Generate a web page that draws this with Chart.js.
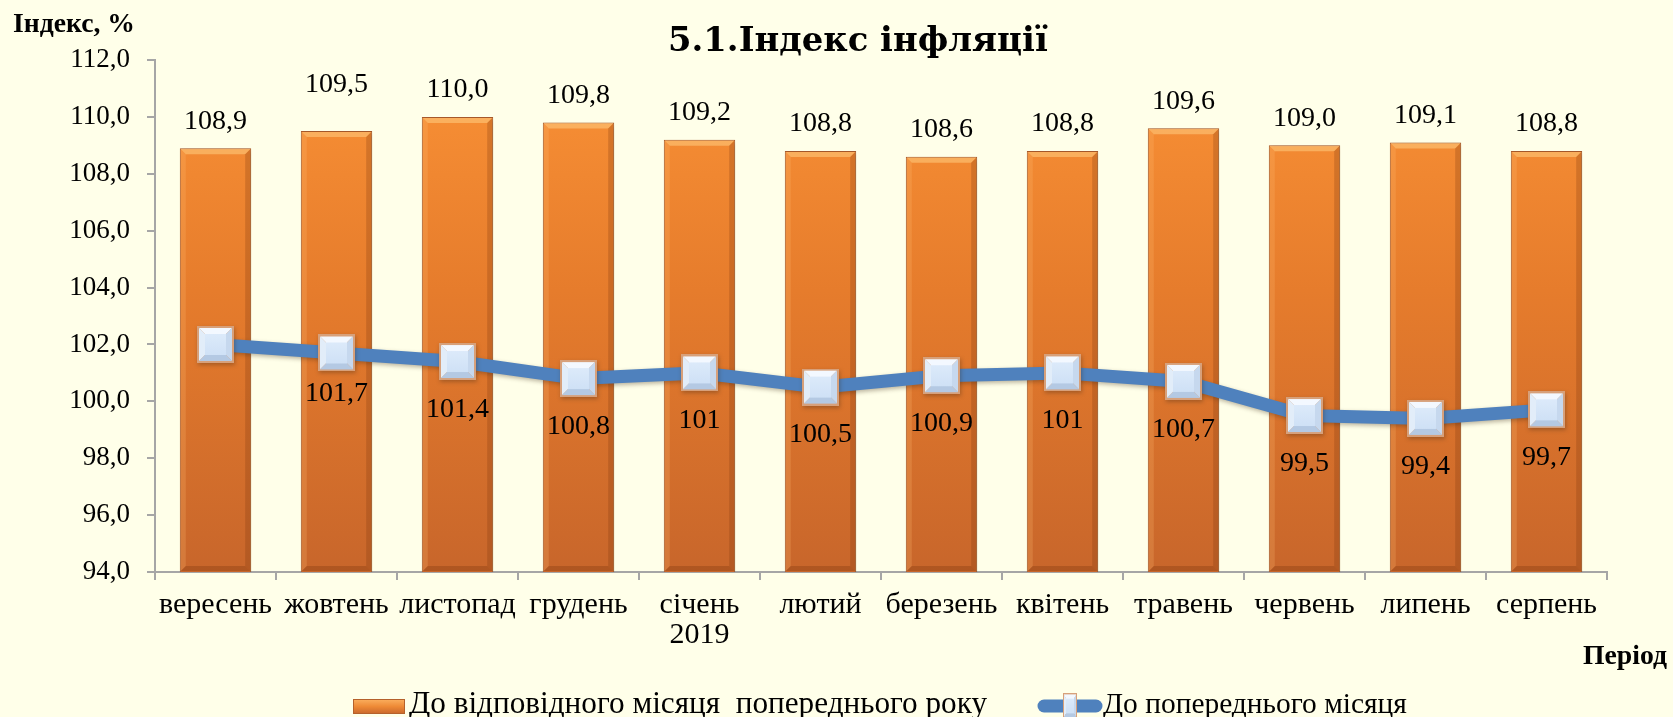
<!DOCTYPE html>
<html>
<head>
<meta charset="utf-8">
<script src="https://cdn.jsdelivr.net/npm/chart.js@4.4.1/dist/chart.umd.min.js"></script>
<style>
  html,body{margin:0;padding:0;background:#FFFFE9;}
  #wrap{width:1673px;height:717px;position:relative;}
</style>
</head>
<body>
<div id="wrap"><canvas id="c" width="1673" height="717"></canvas></div>
<script>
// ---- data ----
const categories = [['вересень'],['жовтень'],['листопад'],['грудень'],['січень','2019'],['лютий'],['березень'],['квітень'],['травень'],['червень'],['липень'],['серпень']];
const yoyValues = [108.9,109.5,110.0,109.8,109.2,108.8,108.6,108.8,109.6,109.0,109.1,108.8];
const momValues = [102.0,101.7,101.4,100.8,101,100.5,100.9,101,100.7,99.5,99.4,99.7];
const momLabelShown = [false,true,true,true,true,true,true,true,true,true,true,true];
const yMin = 94, yMax = 112, yStep = 2;
const titleText = '5.1.Індекс інфляції';
const yTitle = 'Індекс, %';
const xTitle = 'Період';
const seriesNames = ['До відповідного місяця  попереднього року','До попереднього місяця'];

// label placement tweaks (style only)
const barLabelLift = [0,19,0,0,0,0,0,0,0,0,0,0];
const lineLabelDrop = [0,-7,0,0,0,0,0,0,0,0,0,0];

const SERIF = '"Liberation Serif", "Times New Roman", serif';

function fmt1(v){ return v.toFixed(1).replace('.',','); }
function fmtRaw(v){ return String(v).replace('.',','); }

// marker image
function makeMarker(s){
  const c = document.createElement('canvas');
  c.width = s; c.height = s;
  const g = c.getContext('2d');
  const b = 6;
  g.fillStyle = '#D7A07A'; g.fillRect(0,0,s,s);
  const i0 = 2, i1 = s-2;
  g.fillStyle = '#F3F8FF'; g.beginPath(); g.moveTo(i0,i0); g.lineTo(i1,i0); g.lineTo(i1-b,i0+b); g.lineTo(i0+b,i0+b); g.closePath(); g.fill();
  g.fillStyle = '#E2EDF9'; g.beginPath(); g.moveTo(i0,i0); g.lineTo(i0+b,i0+b); g.lineTo(i0+b,i1-b); g.lineTo(i0,i1); g.closePath(); g.fill();
  g.fillStyle = '#C6D8EE'; g.beginPath(); g.moveTo(i1,i0); g.lineTo(i1,i1); g.lineTo(i1-b,i1-b); g.lineTo(i1-b,i0+b); g.closePath(); g.fill();
  g.fillStyle = '#B4C9E3'; g.beginPath(); g.moveTo(i0,i1); g.lineTo(i0+b,i1-b); g.lineTo(i1-b,i1-b); g.lineTo(i1,i1); g.closePath(); g.fill();
  const grd = g.createLinearGradient(0,i0+b,0,i1-b);
  grd.addColorStop(0,'#DCEAFA'); grd.addColorStop(1,'#CFE1F6');
  g.fillStyle = grd; g.fillRect(i0+b,i0+b,s-2*i0-2*b,s-2*i0-2*b);
  return c;
}
const markerImg = makeMarker(37);

function barFill(ctx){
  const chart = ctx.chart;
  const a = chart.chartArea;
  if(!a) return '#E67E2E';
  const g = chart.ctx.createLinearGradient(0,a.top,0,a.bottom);
  g.addColorStop(0,'#FA9236');
  g.addColorStop(0.45,'#E67C2C');
  g.addColorStop(1,'#C8662B');
  return g;
}

const bevelPlugin = {
  id:'bevelPlugin',
  beforeDatasetDraw(chart, args){
    const ctx = chart.ctx;
    if(args.index === 1){
      ctx.save();
      ctx.shadowColor = 'rgba(90,60,20,0.35)';
      ctx.shadowBlur = 5;
      ctx.shadowOffsetX = 2;
      ctx.shadowOffsetY = 2;
    }
    if(args.index === 0){
      ctx.save();
      ctx.shadowColor = 'rgba(60,40,20,0.35)';
      ctx.shadowBlur = 4;
      ctx.shadowOffsetX = 1;
      ctx.shadowOffsetY = 2;
    }
  },
  afterDatasetDraw(chart, args){
    const ctx = chart.ctx;
    if(args.index === 0){ ctx.restore(); return; }
    if(args.index !== 1) return;
    ctx.restore();
    const meta = chart.getDatasetMeta(1);
    const area = chart.chartArea;
    const b = 5;
    ctx.save();
    meta.data.forEach(el=>{
      const l = el.x - el.width/2 + 1, r = el.x + el.width/2 - 1;
      const t = el.y + 1, bot = Math.min(el.base, area.bottom) - 1;
      ctx.fillStyle = 'rgba(255,205,130,0.55)';
      ctx.beginPath(); ctx.moveTo(l,t); ctx.lineTo(r,t); ctx.lineTo(r-b,t+b); ctx.lineTo(l+b,t+b); ctx.closePath(); ctx.fill();
      ctx.fillStyle = 'rgba(255,190,120,0.22)';
      ctx.beginPath(); ctx.moveTo(l,t); ctx.lineTo(l+b,t+b); ctx.lineTo(l+b,bot-b); ctx.lineTo(l,bot); ctx.closePath(); ctx.fill();
      ctx.fillStyle = 'rgba(120,50,10,0.25)';
      ctx.beginPath(); ctx.moveTo(r,t); ctx.lineTo(r,bot); ctx.lineTo(r-b,bot-b); ctx.lineTo(r-b,t+b); ctx.closePath(); ctx.fill();
      ctx.fillStyle = 'rgba(120,50,10,0.3)';
      ctx.beginPath(); ctx.moveTo(l,bot); ctx.lineTo(l+b,bot-b); ctx.lineTo(r-b,bot-b); ctx.lineTo(r,bot); ctx.closePath(); ctx.fill();
    });
    ctx.restore();
  }
};

const labelsPlugin = {
  id:'labelsPlugin',
  afterDatasetsDraw(chart){
    const ctx = chart.ctx;
    ctx.save();
    ctx.fillStyle = '#000';
    ctx.font = '28px ' + SERIF;
    ctx.textAlign = 'center';
    ctx.textBaseline = 'middle';
    const barMeta = chart.getDatasetMeta(1);
    barMeta.data.forEach((el,i)=>{
      ctx.fillText(fmt1(yoyValues[i]), el.x, el.y - 27 - barLabelLift[i]);
    });
    const lineMeta = chart.getDatasetMeta(0);
    lineMeta.data.forEach((el,i)=>{
      if(!momLabelShown[i]) return;
      ctx.fillText(fmtRaw(momValues[i]), el.x, el.y + 48 + lineLabelDrop[i]);
    });
    ctx.restore();
  },
  afterDraw(chart){
    const ctx = chart.ctx;
    ctx.save();
    ctx.fillStyle = '#000';
    ctx.textBaseline = 'middle';
    function fitFont(text, weight, fam, targetW){
      ctx.font = weight + ' 40px ' + fam;
      const w = ctx.measureText(text).width;
      return weight + ' ' + (40*targetW/w).toFixed(2) + 'px ' + fam;
    }
    ctx.textAlign = 'left';
    ctx.font = fitFont(titleText,'bold','"DejaVu Serif", Georgia, serif',380);
    ctx.fillText(titleText, 668, 42);
    ctx.font = fitFont(yTitle,'bold',SERIF,122);
    ctx.fillText(yTitle, 13, 25);
    ctx.font = fitFont(xTitle,'bold',SERIF,84);
    ctx.fillText(xTitle, 1583, 657);
    // legend
    const ly = 705;
    const bg = ctx.createLinearGradient(0,699,0,714);
    bg.addColorStop(0,'#FBB060'); bg.addColorStop(0.5,'#EE8A36'); bg.addColorStop(1,'#C8662B');
    ctx.fillStyle = bg; ctx.fillRect(353,699,52,15);
    ctx.strokeStyle = '#B5612B'; ctx.lineWidth = 1; ctx.strokeRect(353.5,699.5,51,14);
    ctx.fillStyle = '#000';
    ctx.font = fitFont(seriesNames[0],'',SERIF,578);
    ctx.fillText(seriesNames[0], 409, ly);
    ctx.strokeStyle = '#4F81BD'; ctx.lineWidth = 13; ctx.lineCap = 'round';
    ctx.beginPath(); ctx.moveTo(1044, ly+1); ctx.lineTo(1096, ly+1); ctx.stroke();
    ctx.drawImage(markerImg, 1063, 693, 14, 26);
    ctx.fillStyle = '#000';
    ctx.font = fitFont(seriesNames[1],'',SERIF,304);
    ctx.fillText(seriesNames[1], 1103, ly);
    ctx.restore();
  }
};

const bgPlugin = {
  id:'bgPlugin',
  beforeDraw(chart){
    const ctx = chart.ctx;
    ctx.save(); ctx.fillStyle = '#FFFFE9'; ctx.fillRect(0,0,chart.width,chart.height); ctx.restore();
  }
};

new Chart(document.getElementById('c'), {
  data: {
    labels: categories,
    datasets: [
      {
        type:'line',
        label: seriesNames[1],
        data: momValues,
        borderColor:'#4F81BD',
        borderWidth:13,
        tension:0,
        pointStyle: markerImg,
        pointRadius: 18,
        pointHoverRadius: 18,
        order:0
      },
      {
        type:'bar',
        label: seriesNames[0],
        data: yoyValues,
        backgroundColor: barFill,
        borderColor:'#A9592A',
        borderWidth:1,
        barPercentage:0.59,
        categoryPercentage:1,
        order:1
      }
    ]
  },
  options: {
    responsive:false,
    animation:false,
    events:[],
    layout:{ padding:{ left:0, right:66, top:60, bottom:65 } },
    plugins:{ legend:{display:false}, tooltip:{enabled:false}, title:{display:false} },
    scales:{
      x:{
        offset:true,
        grid:{ display:true, drawOnChartArea:false, offset:true, tickLength:8, color:'#A6A6A6', lineWidth:2 },
        border:{ color:'#A6A6A6', width:2 },
        ticks:{ color:'#000', font:{ family:SERIF, size:30, lineHeight:1.0 }, padding:10, maxRotation:0, autoSkip:false },
        afterFit(s){ s.height = 80; }
      },
      y:{
        min:yMin, max:yMax,
        grid:{ display:true, drawOnChartArea:false, tickLength:8, color:'#A6A6A6', lineWidth:2 },
        border:{ color:'#A6A6A6', width:2 },
        ticks:{ stepSize:yStep, color:'#000', font:{ family:SERIF, size:27 }, padding:17, callback:(v)=>fmt1(v) },
        afterFit(s){ s.width = 155; }
      }
    }
  },
  plugins:[bgPlugin, bevelPlugin, labelsPlugin]
});
</script>
</body>
</html>
